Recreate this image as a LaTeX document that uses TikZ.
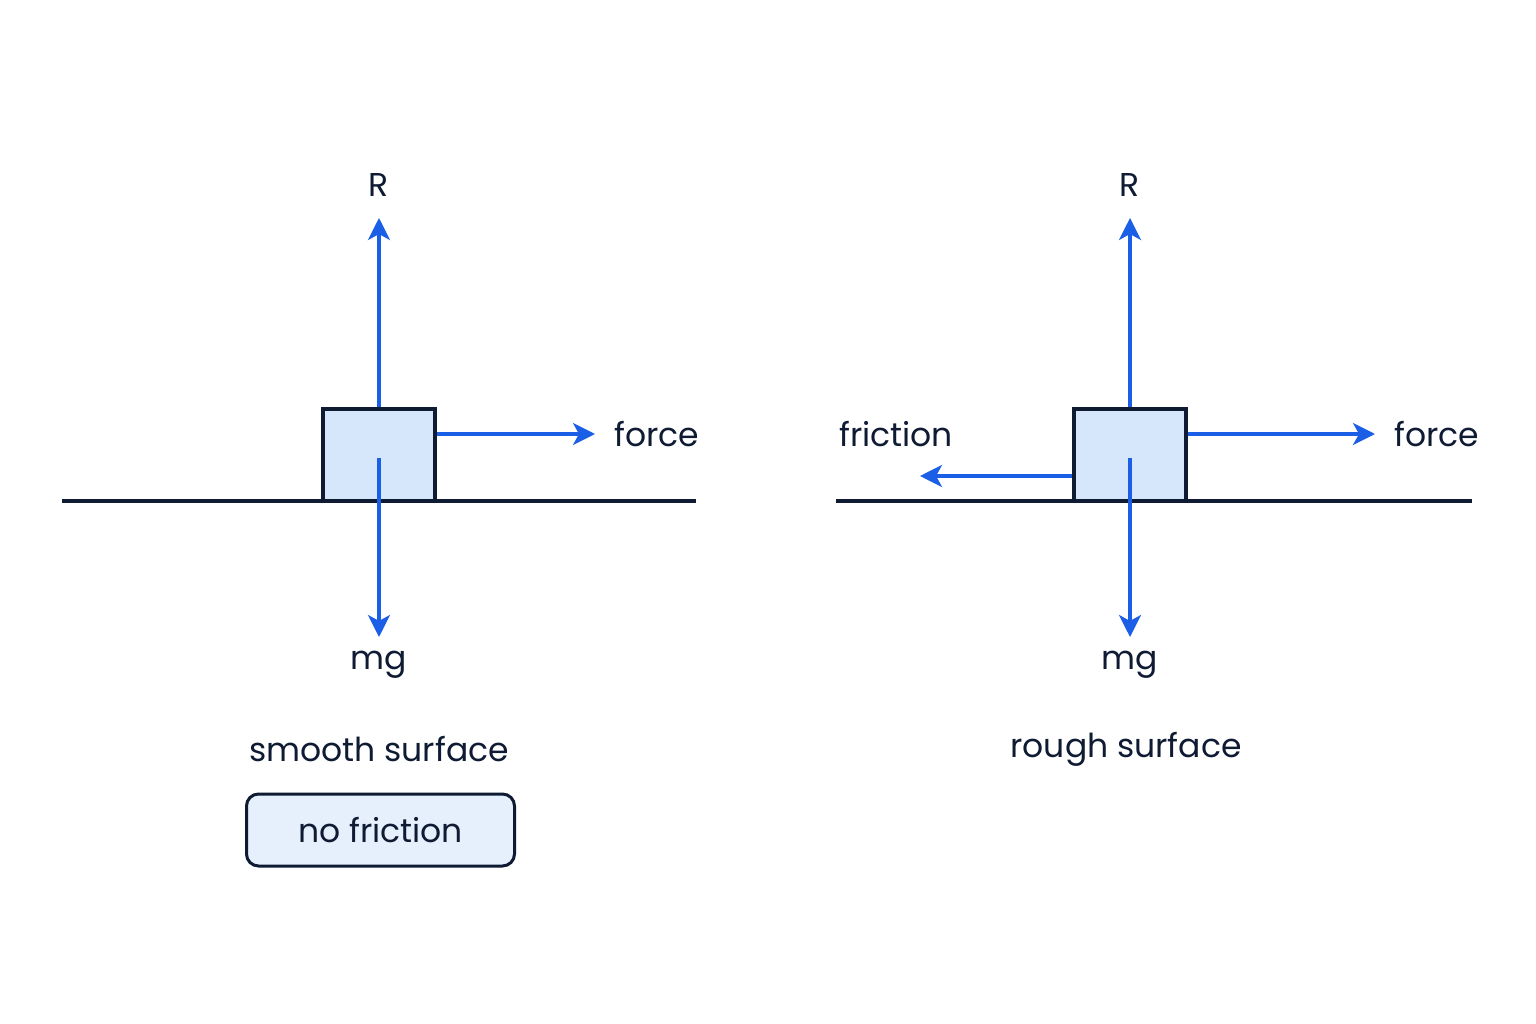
\documentclass[tikz,border=0pt]{standalone}
\usepackage{fontspec}
\setmainfont{Poppins}
\usetikzlibrary{arrows.meta}
\definecolor{navy}{HTML}{0F1A33}
\definecolor{fblue}{HTML}{1A5FE6}
\definecolor{lblue}{HTML}{D6E6FB}
\begin{document}
\begin{tikzpicture}[x=1pt,y=-1pt,
  ground/.style={navy,line width=3.6pt},
  block/.style={draw=navy,fill=lblue,line width=3.6pt,minimum width=112pt,minimum height=92pt,inner sep=0},
  force/.style={fblue,line width=3.4pt,-{Stealth[length=22pt,width=22pt,inset=6pt]}},
  lab/.style={text=navy,font=\fontsize{33}{40}\selectfont,inner sep=0}]
\useasboundingbox[fill=white] (0,0) rectangle (1536,1024);
% left
\coordinate (gl1) at (62,501); \coordinate (gl2) at (696,501);
\draw[ground] (gl1) -- (gl2);
\node[block] (b1) at (379,455) {};
\coordinate (c1) at (379,458);
\coordinate (r1) at (379,218); \coordinate (m1) at (379,637); \coordinate (f1) at (595,434);
\draw[force] (b1.north) -- (r1);
\draw[force] (b1.east |- f1) -- (f1);
\draw[force] (c1) -- (m1);
\node[lab] (R1) at (379,185) {R};
\node[lab] (F1) at (657,434) {force};
\node[lab] (M1) at (379,665) {mg};
\node[lab] (S1) at (379,749) {smooth surface};
\node[lab,draw=navy,line width=3pt,fill=lblue!60,rounded corners=12pt,minimum width=268pt,minimum height=72pt] (NF) at (380.5,830) {no friction};
% right
\coordinate (gr1) at (836,501); \coordinate (gr2) at (1472,501);
\draw[ground] (gr1) -- (gr2);
\node[block] (b2) at (1130,455) {};
\coordinate (c2) at (1130,458);
\coordinate (r2) at (1130,218); \coordinate (m2) at (1130,637); \coordinate (f2) at (1375,434);
\coordinate (fr2) at (920,476);
\draw[force] (b2.north) -- (r2);
\draw[force] (b2.east |- f2) -- (f2);
\draw[force] (b2.west |- fr2) -- (fr2);
\draw[force] (c2) -- (m2);
\node[lab] (R2) at (1130,185) {R};
\node[lab] (F2) at (1437,434) {force};
\node[lab] (FR) at (896,434) {friction};
\node[lab] (M2) at (1130,665) {mg};
\node[lab] (S2) at (1126,749) {rough surface};
\end{tikzpicture}
\end{document}
